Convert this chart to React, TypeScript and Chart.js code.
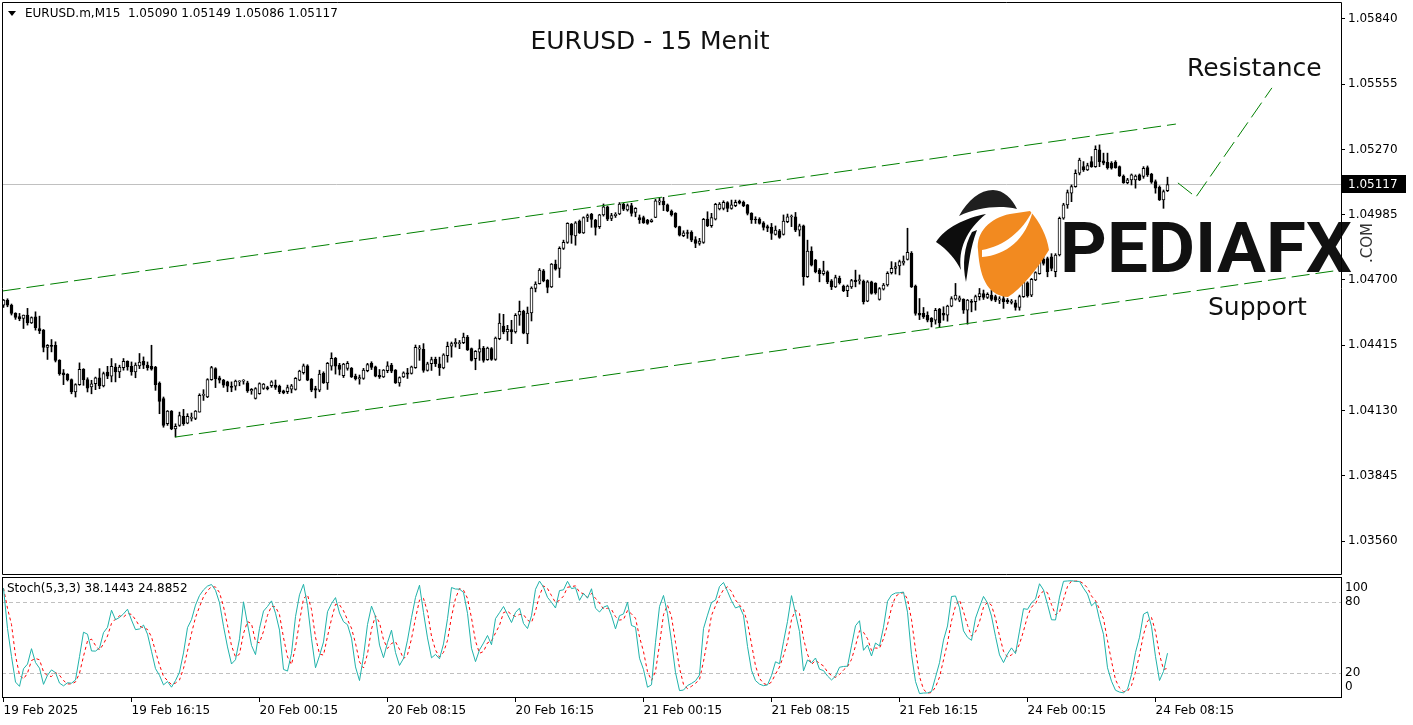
import React, { useEffect, useRef } from "react";
import { Chart, registerables } from "chart.js";

Chart.register(...registerables);

const FONT = "'DejaVu Sans', sans-serif";

// ---- EURUSD M15 candles (index 0 = 19 Feb 08:15) ----
const OPEN = [
  1.04590,1.04612,1.04590,1.04554,1.04540,1.04532,1.04547,1.04513,1.04539,1.04488,
  1.04481,1.04405,1.04415,1.04415,1.04349,1.04294,1.04288,1.04265,1.04211,1.04243,
  1.04310,1.04265,1.04233,1.04247,1.04273,1.04237,1.04298,1.04280,1.04320,1.04298,
  1.04317,1.04345,1.04323,1.04298,1.04325,1.04345,1.04328,1.04323,1.04320,1.04250,
  1.04182,1.04072,1.04127,1.04050,1.04065,1.04105,1.04075,1.04095,1.04095,1.04123,
  1.04196,1.04189,1.04265,1.04313,1.04273,1.04263,1.04255,1.04236,1.04236,1.04255,
  1.04258,1.04251,1.04215,1.04183,1.04204,1.04226,1.04230,1.04238,1.04241,1.04236,
  1.04216,1.04212,1.04223,1.04222,1.04263,1.04295,1.04325,1.04267,1.04226,1.04219,
  1.04292,1.04251,1.04324,1.04358,1.04328,1.04282,1.04314,1.04314,1.04280,1.04268,
  1.04270,1.04304,1.04336,1.04321,1.04284,1.04277,1.04304,1.04328,1.04306,1.04251,
  1.04277,1.04295,1.04292,1.04317,1.04398,1.04397,1.04305,1.04334,1.04353,1.04334,
  1.04316,1.04370,1.04411,1.04422,1.04422,1.04426,1.04451,1.04400,1.04356,1.04385,
  1.04403,1.04352,1.04400,1.04353,1.04444,1.04499,1.04473,1.04483,1.04473,1.04546,
  1.04563,1.04465,1.04556,1.04663,1.04684,1.04740,1.04699,1.04670,1.04769,1.04750,
  1.04838,1.04864,1.04944,1.04892,1.04957,1.04906,1.04973,1.04987,1.04962,1.04933,
  1.04984,1.05020,1.04969,1.04981,1.04988,1.05032,1.05006,1.05025,1.04995,1.04972,
  1.04972,1.04962,1.04955,1.04973,1.05040,1.05045,1.05028,1.05001,1.04991,1.04933,
  1.04893,1.04906,1.04908,1.04877,1.04860,1.04864,1.04966,1.04937,1.04966,1.05010,
  1.05013,1.05038,1.05013,1.05025,1.05045,1.05039,1.05028,1.04991,1.04966,1.04966,
  1.04950,1.04933,1.04930,1.04899,1.04915,1.04899,1.04955,1.04975,1.04976,1.04918,
  1.04936,1.04714,1.04826,1.04787,1.04743,1.04728,1.04736,1.04696,1.04670,1.04707,
  1.04673,1.04653,1.04670,1.04700,1.04697,1.04695,1.04608,1.04692,1.04685,1.04615,
  1.04660,1.04678,1.04732,1.04751,1.04761,1.04773,1.04790,1.04816,1.04673,1.04554,
  1.04554,1.04546,1.04532,1.04524,1.04573,1.04554,1.04546,1.04586,1.04616,1.04612,
  1.04615,1.04568,1.04605,1.04605,1.04627,1.04641,1.04624,1.04634,1.04627,1.04612,
  1.04619,1.04612,1.04602,1.04600,1.04580,1.04627,1.04688,1.04634,1.04700,1.04728,
  1.04790,1.04794,1.04801,1.04736,1.04809,1.04970,1.05028,1.05079,1.05108,1.05166,
  1.05195,1.05181,1.05217,1.05195,1.05268,1.05220,1.05214,1.05210,1.05214,1.05195,
  1.05154,1.05125,1.05137,1.05137,1.05159,1.05152,1.05191,1.05162,1.05130,1.05105,
  1.05050,1.05090,
];

const HIGH = [
  1.04615,1.04618,1.04595,1.04557,1.04554,1.04547,1.04576,1.04539,1.04561,1.04542,
  1.04484,1.04418,1.04440,1.04430,1.04352,1.04309,1.04291,1.04268,1.04247,1.04338,
  1.04313,1.04273,1.04262,1.04276,1.04313,1.04298,1.04323,1.04357,1.04335,1.04328,
  1.04357,1.04347,1.04342,1.04338,1.04379,1.04364,1.04342,1.04415,1.04323,1.04255,
  1.04189,1.04130,1.04130,1.04072,1.04123,1.04135,1.04116,1.04119,1.04130,1.04203,
  1.04221,1.04269,1.04323,1.04317,1.04280,1.04266,1.04258,1.04255,1.04263,1.04260,
  1.04265,1.04258,1.04226,1.04230,1.04251,1.04248,1.04236,1.04260,1.04263,1.04241,
  1.04219,1.04241,1.04244,1.04274,1.04306,1.04333,1.04330,1.04270,1.04236,1.04306,
  1.04299,1.04340,1.04382,1.04362,1.04336,1.04336,1.04344,1.04318,1.04289,1.04285,
  1.04314,1.04336,1.04343,1.04324,1.04309,1.04309,1.04343,1.04336,1.04309,1.04277,
  1.04299,1.04314,1.04324,1.04416,1.04414,1.04422,1.04341,1.04363,1.04363,1.04363,
  1.04378,1.04429,1.04429,1.04444,1.04436,1.04468,1.04458,1.04403,1.04392,1.04439,
  1.04410,1.04407,1.04405,1.04451,1.04553,1.04550,1.04502,1.04524,1.04553,1.04608,
  1.04568,1.04582,1.04670,1.04692,1.04750,1.04746,1.04702,1.04772,1.04787,1.04845,
  1.04874,1.04950,1.04947,1.04955,1.04962,1.04976,1.04988,1.04991,1.04965,1.04987,
  1.05032,1.05023,1.04991,1.04994,1.05038,1.05035,1.05032,1.05035,1.05016,1.04984,
  1.04979,1.04965,1.04966,1.05052,1.05057,1.05061,1.05032,1.05006,1.04994,1.04935,
  1.04915,1.04918,1.04915,1.04889,1.04882,1.04969,1.04998,1.04991,1.05035,1.05038,
  1.05046,1.05042,1.05049,1.05049,1.05049,1.05045,1.05030,1.04994,1.04976,1.04972,
  1.04955,1.04940,1.04947,1.04936,1.04921,1.04984,1.04988,1.04984,1.04995,1.04944,
  1.04940,1.04874,1.04845,1.04790,1.04750,1.04782,1.04740,1.04702,1.04721,1.04717,
  1.04678,1.04678,1.04703,1.04743,1.04722,1.04700,1.04697,1.04695,1.04688,1.04667,
  1.04685,1.04736,1.04780,1.04776,1.04787,1.04805,1.04926,1.04824,1.04678,1.04619,
  1.04580,1.04561,1.04536,1.04576,1.04576,1.04583,1.04590,1.04627,1.04685,1.04630,
  1.04618,1.04615,1.04615,1.04634,1.04663,1.04656,1.04644,1.04656,1.04634,1.04627,
  1.04630,1.04619,1.04615,1.04612,1.04634,1.04700,1.04692,1.04707,1.04736,1.04794,
  1.04805,1.04800,1.04815,1.04815,1.04975,1.05035,1.05093,1.05115,1.05181,1.05232,
  1.05217,1.05210,1.05239,1.05286,1.05290,1.05254,1.05254,1.05217,1.05221,1.05198,
  1.05159,1.05144,1.05163,1.05159,1.05163,1.05195,1.05198,1.05166,1.05137,1.05111,
  1.05093,1.05149,
];

const LOW = [
  1.04580,1.04583,1.04547,1.04528,1.04522,1.04488,1.04503,1.04510,1.04481,1.04466,
  1.04386,1.04353,1.04386,1.04342,1.04284,1.04243,1.04259,1.04203,1.04189,1.04240,
  1.04240,1.04211,1.04203,1.04221,1.04225,1.04233,1.04269,1.04255,1.04255,1.04273,
  1.04306,1.04306,1.04284,1.04273,1.04313,1.04313,1.04306,1.04306,1.04218,1.04116,
  1.04057,1.04065,1.04046,1.04014,1.04061,1.04065,1.04072,1.04084,1.04090,1.04123,
  1.04174,1.04186,1.04262,1.04230,1.04250,1.04231,1.04212,1.04212,1.04219,1.04238,
  1.04245,1.04209,1.04201,1.04180,1.04201,1.04222,1.04220,1.04231,1.04222,1.04204,
  1.04203,1.04204,1.04207,1.04219,1.04260,1.04289,1.04260,1.04212,1.04185,1.04212,
  1.04248,1.04222,1.04306,1.04289,1.04285,1.04274,1.04306,1.04274,1.04263,1.04245,
  1.04266,1.04299,1.04309,1.04277,1.04270,1.04274,1.04295,1.04295,1.04248,1.04236,
  1.04274,1.04270,1.04289,1.04314,1.04349,1.04297,1.04302,1.04305,1.04322,1.04283,
  1.04312,1.04341,1.04363,1.04407,1.04400,1.04422,1.04392,1.04346,1.04308,1.04349,
  1.04341,1.04349,1.04349,1.04349,1.04439,1.04465,1.04436,1.04422,1.04468,1.04502,
  1.04465,1.04422,1.04521,1.04648,1.04682,1.04692,1.04644,1.04667,1.04743,1.04711,
  1.04833,1.04860,1.04860,1.04852,1.04903,1.04903,1.04955,1.04930,1.04896,1.04925,
  1.04979,1.04959,1.04959,1.04973,1.04985,1.05003,1.05001,1.04979,1.04976,1.04947,
  1.04947,1.04943,1.04952,1.04972,1.05028,1.05003,1.04998,1.04979,1.04928,1.04892,
  1.04889,1.04882,1.04867,1.04841,1.04852,1.04860,1.04933,1.04930,1.04962,1.05006,
  1.05006,1.04998,1.05009,1.05020,1.05032,1.05020,1.04984,1.04947,1.04947,1.04944,
  1.04918,1.04911,1.04877,1.04896,1.04882,1.04896,1.04950,1.04933,1.04911,1.04892,
  1.04677,1.04711,1.04761,1.04731,1.04692,1.04721,1.04684,1.04658,1.04667,1.04682,
  1.04649,1.04627,1.04663,1.04670,1.04682,1.04595,1.04605,1.04638,1.04638,1.04612,
  1.04656,1.04673,1.04726,1.04726,1.04722,1.04765,1.04787,1.04667,1.04546,1.04527,
  1.04532,1.04517,1.04495,1.04507,1.04495,1.04524,1.04520,1.04583,1.04612,1.04605,
  1.04554,1.04507,1.04561,1.04568,1.04612,1.04615,1.04619,1.04609,1.04605,1.04597,
  1.04576,1.04597,1.04595,1.04568,1.04568,1.04624,1.04625,1.04627,1.04697,1.04725,
  1.04765,1.04714,1.04740,1.04714,1.04805,1.04965,1.05013,1.05042,1.05105,1.05159,
  1.05174,1.05178,1.05192,1.05192,1.05195,1.05203,1.05184,1.05184,1.05188,1.05152,
  1.05122,1.05120,1.05115,1.05101,1.05134,1.05144,1.05152,1.05122,1.05079,1.05047,
  1.05013,1.05086,
];

const CLOSE = [
  1.04612,1.04590,1.04554,1.04536,1.04530,1.04547,1.04513,1.04536,1.04492,1.04478,
  1.04405,1.04415,1.04410,1.04349,1.04291,1.04285,1.04265,1.04211,1.04243,1.04310,
  1.04265,1.04228,1.04247,1.04273,1.04237,1.04291,1.04280,1.04323,1.04298,1.04320,
  1.04345,1.04320,1.04298,1.04328,1.04342,1.04328,1.04317,1.04310,1.04243,1.04170,
  1.04065,1.04127,1.04050,1.04061,1.04108,1.04072,1.04105,1.04101,1.04127,1.04196,
  1.04200,1.04265,1.04317,1.04269,1.04262,1.04241,1.04236,1.04231,1.04258,1.04258,
  1.04260,1.04215,1.04222,1.04226,1.04248,1.04245,1.04225,1.04255,1.04231,1.04212,
  1.04207,1.04230,1.04238,1.04270,1.04302,1.04325,1.04263,1.04219,1.04219,1.04289,
  1.04251,1.04336,1.04358,1.04324,1.04309,1.04333,1.04336,1.04277,1.04268,1.04274,
  1.04306,1.04331,1.04318,1.04280,1.04277,1.04306,1.04325,1.04302,1.04251,1.04274,
  1.04295,1.04289,1.04321,1.04406,1.04404,1.04305,1.04334,1.04352,1.04334,1.04316,
  1.04373,1.04410,1.04422,1.04428,1.04426,1.04451,1.04395,1.04349,1.04388,1.04400,
  1.04349,1.04403,1.04353,1.04446,1.04512,1.04473,1.04484,1.04473,1.04546,1.04563,
  1.04468,1.04556,1.04665,1.04682,1.04743,1.04696,1.04667,1.04769,1.04747,1.04838,
  1.04864,1.04947,1.04896,1.04950,1.04906,1.04973,1.04981,1.04965,1.04930,1.04984,
  1.05020,1.04966,1.04981,1.04987,1.05032,1.05009,1.05025,1.04991,1.05013,1.04962,
  1.04950,1.04947,1.04962,1.05046,1.05046,1.05028,1.05003,1.04984,1.04933,1.04896,
  1.04906,1.04903,1.04874,1.04860,1.04870,1.04965,1.04937,1.04972,1.05030,1.05032,
  1.05039,1.05013,1.05028,1.05039,1.05035,1.05025,1.04991,1.04962,1.04962,1.04947,
  1.04930,1.04926,1.04903,1.04918,1.04886,1.04957,1.04976,1.04979,1.04918,1.04936,
  1.04714,1.04826,1.04765,1.04736,1.04728,1.04740,1.04692,1.04670,1.04711,1.04688,
  1.04653,1.04673,1.04697,1.04693,1.04700,1.04605,1.04692,1.04641,1.04644,1.04663,
  1.04678,1.04729,1.04751,1.04758,1.04780,1.04783,1.04821,1.04670,1.04554,1.04546,
  1.04539,1.04524,1.04517,1.04568,1.04513,1.04546,1.04586,1.04619,1.04634,1.04622,
  1.04568,1.04612,1.04602,1.04627,1.04641,1.04624,1.04637,1.04615,1.04612,1.04618,
  1.04605,1.04605,1.04608,1.04580,1.04627,1.04690,1.04630,1.04703,1.04732,1.04779,
  1.04772,1.04736,1.04750,1.04809,1.04969,1.05028,1.05082,1.05108,1.05166,1.05224,
  1.05181,1.05200,1.05195,1.05271,1.05217,1.05210,1.05191,1.05188,1.05191,1.05154,
  1.05125,1.05137,1.05159,1.05154,1.05137,1.05188,1.05159,1.05127,1.05101,1.05050,
  1.05086,1.05117,
];

// ---- axes / labels ----
const PRICE_TICKS = [1.0356, 1.03845, 1.0413, 1.04415, 1.047, 1.04985, 1.0527, 1.05555, 1.0584];
const PRICE_MIN = 1.03416;
const PRICE_MAX = 1.05914;
const BAR_MIN = -0.375;
const BAR_MAX = 334.375;
const TIME_TICKS = [0, 32, 64, 96, 128, 160, 192, 224, 256, 288];
const TIME_LABELS = [
  "19 Feb 2025", "19 Feb 16:15", "20 Feb 00:15", "20 Feb 08:15", "20 Feb 16:15",
  "21 Feb 00:15", "21 Feb 08:15", "21 Feb 16:15", "24 Feb 00:15", "24 Feb 08:15",
];
const STOCH_LEVELS = [0, 20, 80, 100];
const STOCH_DASHED_LEVELS = [20, 80];
const STOCH_K = 5;
const STOCH_D = 3;
const STOCH_SLOWING = 3;
const LAST_PRICE = 1.05117;
const SYMBOL_HEADER = "EURUSD.m,M15  1.05090 1.05149 1.05086 1.05117";
const STOCH_HEADER = "Stoch(5,3,3) 38.1443 24.8852";
const TITLE = "EURUSD - 15 Menit";
const RESISTANCE_TEXT = "Resistance";
const SUPPORT_TEXT = "Support";

// trend annotations (bar index, price)
const UPPER_LINE = [{ x: -0.2, y: 1.04652 }, { x: 293.1, y: 1.05381 }];
const LOWER_LINE = [{ x: 42.9, y: 1.04014 }, { x: 334.4, y: 1.04744 }];
const RESIST_ARROW = [{ x: 293.6, y: 1.05124 }, { x: 298.1, y: 1.05062 }, { x: 317.1, y: 1.05539 }];

function stochastic(h: number[], l: number[], c: number[], kp: number, slowing: number, dp: number) {
  const n = c.length;
  const hh: number[] = [];
  const ll: number[] = [];
  for (let i = 0; i < n; i++) {
    let mx = -Infinity, mn = Infinity;
    for (let j = Math.max(0, i - kp + 1); j <= i; j++) {
      mx = Math.max(mx, h[j]);
      mn = Math.min(mn, l[j]);
    }
    hh.push(mx);
    ll.push(mn);
  }
  const main: number[] = [];
  for (let i = 0; i < n; i++) {
    let num = 0, den = 0;
    for (let j = Math.max(0, i - slowing + 1); j <= i; j++) {
      num += c[j] - ll[j];
      den += hh[j] - ll[j];
    }
    main.push(den === 0 ? 100 : (num / den) * 100);
  }
  const signal: number[] = [];
  for (let i = 0; i < n; i++) {
    let s = 0, cnt = 0;
    for (let j = Math.max(0, i - dp + 1); j <= i; j++) { s += main[j]; cnt++; }
    signal.push(s / cnt);
  }
  return { main, signal };
}

function strokePath(ctx: CanvasRenderingContext2D, pts: { x: number; y: number }[], xs: any, ys: any) {
  ctx.beginPath();
  pts.forEach((p, k) => {
    const px = xs.getPixelForValue(p.x);
    const py = ys.getPixelForValue(p.y);
    if (k === 0) ctx.moveTo(px, py); else ctx.lineTo(px, py);
  });
  ctx.stroke();
}

function drawLogo(ctx: CanvasRenderingContext2D) {
  ctx.save();
  // dome
  ctx.fillStyle = "#1f1f1f";
  ctx.beginPath();
  ctx.moveTo(959, 216);
  ctx.bezierCurveTo(968, 200, 980, 190, 993, 190);
  ctx.bezierCurveTo(1004, 190, 1012, 199, 1017, 209);
  ctx.bezierCurveTo(1000, 205, 978, 207, 959, 216);
  ctx.fill();
  // crescent
  ctx.fillStyle = "#0d0d0d";
  ctx.beginPath();
  ctx.moveTo(986, 214);
  ctx.bezierCurveTo(965, 218, 945, 228, 936, 242);
  ctx.bezierCurveTo(948, 250, 956, 260, 961, 270);
  ctx.bezierCurveTo(958, 250, 966, 230, 986, 214);
  ctx.fill();
  ctx.beginPath();
  ctx.moveTo(972, 232);
  ctx.bezierCurveTo(964, 246, 962, 265, 966, 282);
  ctx.bezierCurveTo(969, 264, 970, 248, 977, 230);
  ctx.closePath();
  ctx.fill();
  // orange body
  ctx.fillStyle = "#F28A20";
  ctx.beginPath();
  ctx.moveTo(978, 250);
  ctx.bezierCurveTo(976, 232, 990, 218, 1010, 214);
  ctx.lineTo(1030, 211);
  ctx.bezierCurveTo(1040, 222, 1047, 236, 1049, 250);
  ctx.bezierCurveTo(1038, 268, 1022, 288, 1008, 297);
  ctx.bezierCurveTo(990, 296, 980, 282, 978, 250);
  ctx.fill();
  // white swoosh
  ctx.fillStyle = "#ffffff";
  ctx.beginPath();
  ctx.moveTo(982, 257);
  ctx.bezierCurveTo(1006, 255, 1026, 240, 1033, 210);
  ctx.bezierCurveTo(1022, 232, 1004, 246, 982, 250);
  ctx.closePath();
  ctx.fill();
  // brand text
  ctx.fillStyle = "#111111";
  ctx.font = "bold 70px Roboto, sans-serif";
  ctx.textBaseline = "alphabetic";
  ctx.textAlign = "left";
  const w = ctx.measureText("PEDIAFX").width;
  ctx.translate(1060, 272);
  ctx.scale(292 / w, 1);
  ctx.fillText("PEDIAFX", 0, 0);
  ctx.restore();
  ctx.save();
  ctx.fillStyle = "#333333";
  ctx.font = `15px ${FONT}`;
  ctx.translate(1368, 243);
  ctx.rotate(-Math.PI / 2);
  ctx.textAlign = "center";
  ctx.textBaseline = "middle";
  ctx.fillText(".COM", 0, 0);
  ctx.restore();
}

const mainOverlay = {
  id: "mainOverlay",
  beforeDatasetsDraw(chart: any) {
    const { ctx, chartArea: a, scales } = chart;
    const py = Math.round(scales.y.getPixelForValue(LAST_PRICE)) + 0.5;
    ctx.save();
    ctx.strokeStyle = "#c0c0c0";
    ctx.lineWidth = 1;
    ctx.beginPath();
    ctx.moveTo(a.left, py);
    ctx.lineTo(a.right, py);
    ctx.stroke();
    ctx.restore();
  },
  afterDatasetsDraw(chart: any) {
    const { ctx, chartArea: a, scales } = chart;
    ctx.save();
    ctx.beginPath();
    ctx.rect(a.left, a.top, a.right - a.left, a.bottom - a.top);
    ctx.clip();
    ctx.strokeStyle = "#008000";
    ctx.lineWidth = 1;
    ctx.setLineDash([18, 6]);
    strokePath(ctx, UPPER_LINE, scales.x, scales.y);
    strokePath(ctx, LOWER_LINE, scales.x, scales.y);
    strokePath(ctx, RESIST_ARROW, scales.x, scales.y);
    ctx.restore();
    drawLogo(ctx);
  },
  afterDraw(chart: any) {
    const { ctx, chartArea: a, scales } = chart;
    ctx.save();
    // frame
    ctx.strokeStyle = "#000";
    ctx.lineWidth = 1;
    ctx.beginPath();
    ctx.moveTo(2.5, 2.5); ctx.lineTo(a.right + 0.5, 2.5);
    ctx.lineTo(a.right + 0.5, 574.5); ctx.lineTo(2.5, 574.5); ctx.closePath();
    ctx.stroke();
    // header
    ctx.fillStyle = "#000";
    ctx.beginPath();
    ctx.moveTo(8, 11); ctx.lineTo(16, 11); ctx.lineTo(12, 16); ctx.closePath();
    ctx.fill();
    ctx.font = `12px ${FONT}`;
    ctx.textBaseline = "middle";
    ctx.textAlign = "left";
    ctx.fillText(SYMBOL_HEADER, 25, 14);
    // handwritten-style notes
    ctx.fillStyle = "#111";
    ctx.font = `25px ${FONT}`;
    ctx.textAlign = "center";
    ctx.fillText(TITLE, 650, 42);
    ctx.textAlign = "left";
    ctx.fillText(RESISTANCE_TEXT, 1187, 69);
    ctx.fillText(SUPPORT_TEXT, 1208, 308);
    // last price box
    const py = Math.round(scales.y.getPixelForValue(LAST_PRICE));
    ctx.fillStyle = "#000";
    ctx.fillRect(a.right + 1, py - 9, 64, 18);
    ctx.fillStyle = "#fff";
    ctx.font = `12px ${FONT}`;
    ctx.fillText(LAST_PRICE.toFixed(5), 1348, py + 0.5);
    ctx.restore();
  },
};

const stochOverlay = {
  id: "stochOverlay",
  beforeDatasetsDraw(chart: any) {
    const { ctx, chartArea: a, scales } = chart;
    ctx.save();
    ctx.strokeStyle = "#c0c0c0";
    ctx.lineWidth = 1;
    ctx.setLineDash([4, 3]);
    STOCH_DASHED_LEVELS.forEach((lv) => {
      const py = Math.round(scales.y.getPixelForValue(lv)) + 0.5;
      ctx.beginPath();
      ctx.moveTo(a.left, py);
      ctx.lineTo(a.right, py);
      ctx.stroke();
    });
    ctx.restore();
  },
  afterDraw(chart: any) {
    const { ctx, chartArea: a, scales } = chart;
    ctx.save();
    ctx.strokeStyle = "#000";
    ctx.lineWidth = 1;
    ctx.strokeRect(2.5, 1.5, a.right - 2, 120);
    ctx.fillStyle = "#000";
    ctx.font = `12px ${FONT}`;
    ctx.textBaseline = "middle";
    ctx.textAlign = "left";
    ctx.fillText(STOCH_HEADER, 7, 13);
    STOCH_LEVELS.forEach((lv) => {
      let py = scales.y.getPixelForValue(lv);
      py = Math.min(Math.max(py, a.top + 10), a.bottom - 10);
      ctx.fillText(String(lv), a.right + 4, py);
    });
    ctx.restore();
  },
};

export default function App() {
  const mainRef = useRef<HTMLCanvasElement>(null);
  const stochRef = useRef<HTMLCanvasElement>(null);

  useEffect(() => {
    const bodies = OPEN.map((o, i) => ({ x: i, y: [o, CLOSE[i]] }));
    const wicks = HIGH.map((h, i) => ({ x: i, y: [LOW[i], h] }));
    const bodyColors = OPEN.map((o, i) => (CLOSE[i] >= o ? "#ffffff" : "#000000"));

    const main = new Chart(mainRef.current as HTMLCanvasElement, {
      type: "bar",
      data: {
        datasets: [
          {
            label: "body",
            data: bodies as any,
            backgroundColor: bodyColors,
            borderColor: "#000000",
            borderWidth: 1,
            borderSkipped: false,
            barThickness: 3,
            minBarLength: 1,
            grouped: false,
            order: 0,
          } as any,
          {
            label: "wick",
            data: wicks as any,
            backgroundColor: "#000000",
            borderWidth: 0,
            barThickness: 1,
            grouped: false,
            order: 1,
          } as any,
        ],
      },
      options: {
        responsive: false,
        animation: false,
        devicePixelRatio: 1,
        layout: { padding: { left: 2, top: 2, right: 0, bottom: 2 } },
        plugins: { legend: { display: false }, tooltip: { enabled: false } },
        scales: {
          x: { type: "linear", min: BAR_MIN, max: BAR_MAX, display: false, offset: false },
          y: {
            type: "linear",
            position: "right",
            min: PRICE_MIN,
            max: PRICE_MAX,
            afterBuildTicks: (s: any) => { s.ticks = PRICE_TICKS.map((v) => ({ value: v })); },
            afterFit: (s: any) => { s.width = 72; s.paddingTop = 0; s.paddingBottom = 0; },
            ticks: {
              callback: (v: any) => Number(v).toFixed(5),
              font: { family: FONT, size: 12 },
              color: "#000",
              padding: 3,
            },
            grid: { drawOnChartArea: false, drawTicks: true, tickLength: 4, color: "#000" },
            border: { display: false },
          },
        },
      } as any,
      plugins: [mainOverlay],
    });

    const { main: kLine, signal: dLine } = stochastic(HIGH, LOW, CLOSE, STOCH_K, STOCH_SLOWING, STOCH_D);

    const stoch = new Chart(stochRef.current as HTMLCanvasElement, {
      type: "line",
      data: {
        datasets: [
          {
            label: "main",
            data: kLine.map((v, i) => ({ x: i, y: v })),
            borderColor: "#20B2AA",
            borderWidth: 1,
            pointRadius: 0,
            tension: 0,
            order: 0,
          },
          {
            label: "signal",
            data: dLine.map((v, i) => ({ x: i, y: v })),
            borderColor: "#FF0000",
            borderWidth: 1,
            borderDash: [3, 3],
            pointRadius: 0,
            tension: 0,
            order: 1,
          },
        ],
      },
      options: {
        responsive: false,
        animation: false,
        devicePixelRatio: 1,
        layout: { padding: { left: 2, top: 2, right: 0, bottom: 0 } },
        plugins: { legend: { display: false }, tooltip: { enabled: false } },
        scales: {
          x: {
            type: "linear",
            min: BAR_MIN,
            max: BAR_MAX,
            offset: false,
            afterBuildTicks: (s: any) => { s.ticks = TIME_TICKS.map((v) => ({ value: v })); },
            afterFit: (s: any) => { s.height = 28; s.paddingLeft = 0; s.paddingRight = 0; },
            ticks: {
              callback: (v: any) => {
                const k = TIME_TICKS.indexOf(Number(v));
                return k >= 0 ? TIME_LABELS[k] : "";
              },
              align: "start",
              autoSkip: false,
              maxRotation: 0,
              minRotation: 0,
              font: { family: FONT, size: 12 },
              color: "#000",
              padding: 2,
            },
            grid: { drawOnChartArea: false, drawTicks: true, tickLength: 5, color: "#000" },
            border: { display: false },
          },
          y: {
            type: "linear",
            position: "right",
            min: 0,
            max: 100,
            afterBuildTicks: (s: any) => { s.ticks = STOCH_LEVELS.map((v) => ({ value: v })); },
            afterFit: (s: any) => { s.width = 72; s.paddingTop = 0; s.paddingBottom = 0; },
            ticks: { display: false },
            grid: { display: false },
            border: { display: false },
          },
        },
      } as any,
      plugins: [stochOverlay],
    });

    return () => {
      main.destroy();
      stoch.destroy();
    };
  }, []);

  return (
    <div style={{ position: "absolute", left: 0, top: 0, width: 1413, height: 725, background: "#fff", overflow: "hidden" }}>
      <canvas ref={mainRef} width={1413} height={576} style={{ position: "absolute", left: 0, top: 0, width: 1413, height: 576 }} />
      <canvas ref={stochRef} width={1413} height={149} style={{ position: "absolute", left: 0, top: 576, width: 1413, height: 149 }} />
    </div>
  );
}
